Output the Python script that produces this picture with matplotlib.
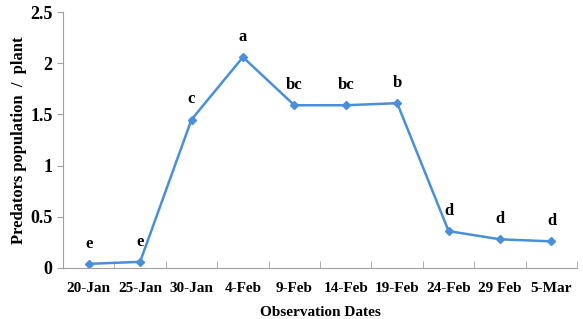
import matplotlib

matplotlib.use('agg')
import matplotlib.pyplot as plt
import numpy as np

dates = ['20-Jan', '25-Jan', '30-Jan', '4-Feb', '9-Feb', '14-Feb', '19-Feb', '24-Feb', '29 Feb', '5-Mar']
predators = [0.04, 0.06, 1.45, 2.06, 1.59, 1.59, 1.61, 0.36, 0.28, 0.26]
letters = ['e', 'e', 'c', 'a', 'bc', 'bc', 'b', 'd', 'd', 'd']

plt.rcParams['font.family'] = ['Liberation Serif', 'DejaVu Serif']
plt.rcParams['font.weight'] = 'bold'

fig = plt.figure(figsize=(5.83, 3.19), dpi=100)
ax = fig.add_axes([0.108, 0.16, 0.882, 0.802])

x = np.arange(len(dates))
ax.plot(x, predators, color='#4a8fd8', lw=1.8, marker='D', ms=4.5)
for xi, yi, lab in zip(x, predators, letters):
    ax.text(xi, yi + 0.12, lab, ha='center', va='bottom', fontsize=12, fontweight='bold')

ax.set_xlim(-0.5, len(dates) - 0.5)
ax.set_ylim(0, 2.5)
ax.set_yticks([0, 0.5, 1, 1.5, 2, 2.5])
ax.set_yticklabels(['0', '0.5', '1', '1.5', '2', '2.5'])
ax.set_xticks(x)
ax.set_xticklabels(dates)
ax.set_xticks(np.arange(-0.5, len(dates), 1), minor=True)
ax.tick_params(axis='x', which='major', length=0, pad=10, labelsize=11)
ax.tick_params(axis='x', which='minor', length=5, color='#a0a0a0', direction='in')
ax.tick_params(axis='y', length=4, color='#a0a0a0', labelsize=13)

for s in ['top', 'right']:
    ax.spines[s].set_visible(False)
for s in ['left', 'bottom']:
    ax.spines[s].set_color('#a0a0a0')

ax.set_xlabel('Observation Dates', fontsize=11, fontweight='bold', labelpad=8)
ax.set_ylabel('Predators population  /  plant', fontsize=12, fontweight='bold', labelpad=2)

fig.savefig('out.png', dpi=100)
